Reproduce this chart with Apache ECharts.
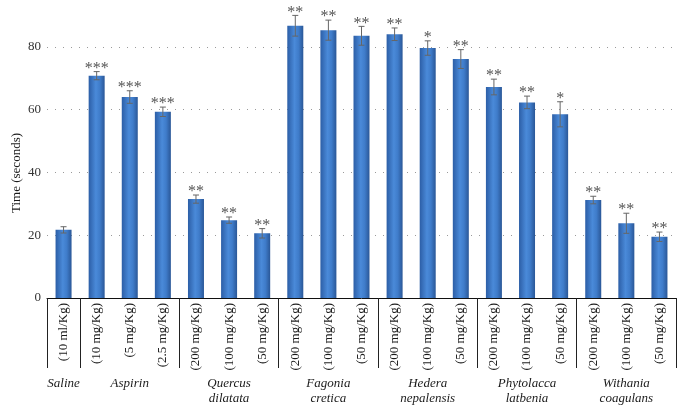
<!DOCTYPE html>
<html>
<head>
<meta charset="utf-8">
<script src="https://cdn.jsdelivr.net/npm/echarts@6/dist/echarts.min.js"></script>
<style>
html,body{margin:0;padding:0;background:#fff;}
#main{width:684px;height:417px;}
</style>
</head>
<body>
<div id="main"></div>
<script>
var doses = ['(10 ml/Kg)','(10 mg/Kg)','(5 mg/Kg)','(2.5 mg/Kg)',
  '(200 mg/Kg)','(100 mg/Kg)','(50 mg/Kg)',
  '(200 mg/Kg)','(100 mg/Kg)','(50 mg/Kg)',
  '(200 mg/Kg)','(100 mg/Kg)','(50 mg/Kg)',
  '(200 mg/Kg)','(100 mg/Kg)','(50 mg/Kg)',
  '(200 mg/Kg)','(100 mg/Kg)','(50 mg/Kg)'];
var groupNames = ['Saline','Aspirin','Quercus\ndilatata','Fagonia\ncretica','Hedera\nnepalensis','Phytolacca\nlatbenia','Withania\ncoagulans'];
var groupStarts = [0,1,4,7,10,13,16];
var groupMiddles = [0,2,5,8,11,14,17];
var values = [21.7,70.8,64.0,59.3,31.5,24.8,20.6,86.7,85.3,83.5,84.0,79.6,76.1,67.2,62.3,58.5,31.2,23.8,19.5];
var errors = [1.0,1.3,2.0,1.5,1.3,1.0,1.5,3.3,3.2,3.0,2.0,2.3,3.0,2.5,2.0,4.0,1.2,3.2,1.5];
var stars = ['','***','***','***','**','**','**','**','**','**','**','*','**','**','**','*','**','**','**'];
var yTicks = {min:0, max:100, interval:20};

var FONT = 'Liberation Serif, "Times New Roman", serif';
var groupAxisData = doses.map(function(d,i){
  var g = groupMiddles.indexOf(i);
  return g >= 0 ? groupNames[g] : '';
});
var errData = values.map(function(v,i){ return [i, v, errors[i]]; });

var chart = echarts.init(document.getElementById('main'));
chart.setOption({
  animation:false,
  backgroundColor:'#fff',
  grid:{left:47, right:8, top:-16, bottom:119, containLabel:false, outerBoundsMode:'none'},
  xAxis:[{
    type:'category', data:doses,
    axisLine:{show:true, lineStyle:{color:'#111', width:1}},
    axisTick:{show:true, length:70, interval:function(i){ return groupStarts.indexOf(i) >= 0; }, lineStyle:{color:'#222', width:1}},
    axisLabel:{rotate:90, interval:0, margin:5, fontFamily:FONT, fontSize:13, color:'#1a1a1a'},
    splitLine:{show:false}
  },{
    type:'category', data:groupAxisData, position:'bottom', offset:72,
    axisLine:{show:false}, axisTick:{show:false},
    axisLabel:{interval:0, margin:6, fontFamily:FONT, fontStyle:'italic', fontSize:13, lineHeight:15, color:'#1a1a1a'},
    splitLine:{show:false}
  }],
  yAxis:{
    type:'value', min:yTicks.min, max:yTicks.max, interval:yTicks.interval,
    name:'Time (seconds)', nameLocation:'middle', nameGap:24, nameMoveOverlap:false,
    nameTextStyle:{fontFamily:FONT, fontSize:13, color:'#1a1a1a', padding:[0,64,0,0]},
    axisLine:{show:false}, axisTick:{show:false},
    axisLabel:{fontFamily:FONT, fontSize:13, color:'#333', margin:6},
    splitLine:{show:true, lineStyle:{color:'#9a9a9a', width:1, type:[1,7]}}
  },
  series:[{
    type:'bar', data:values, barWidth:16, xAxisIndex:0,
    itemStyle:{color:new echarts.graphic.LinearGradient(0,0,1,0,[
      {offset:0, color:'#2c5ea6'},
      {offset:0.45, color:'#4a8ad9'},
      {offset:0.7, color:'#3f7cca'},
      {offset:1, color:'#2a5797'}
    ])}
  },{
    type:'custom', xAxisIndex:0, data:errData, z:5,
    renderItem:function(params, api){
      var x = api.value(0), v = api.value(1), e = api.value(2);
      var top = api.coord([x, v+e]);
      var bot = api.coord([x, v-e]);
      var cw = 3;
      var st = {stroke:'#666', lineWidth:1};
      return {type:'group', children:[
        {type:'line', shape:{x1:top[0], y1:top[1], x2:bot[0], y2:bot[1]}, style:st},
        {type:'line', shape:{x1:top[0]-cw, y1:top[1], x2:top[0]+cw, y2:top[1]}, style:st},
        {type:'line', shape:{x1:bot[0]-cw, y1:bot[1], x2:bot[0]+cw, y2:bot[1]}, style:st},
        {type:'text', style:{text:stars[params.dataIndex], x:top[0], y:top[1]-3, align:'center', verticalAlign:'middle', font:'16px ' + FONT, fill:'#555'}}
      ]};
    }
  }]
});
</script>
</body>
</html>
